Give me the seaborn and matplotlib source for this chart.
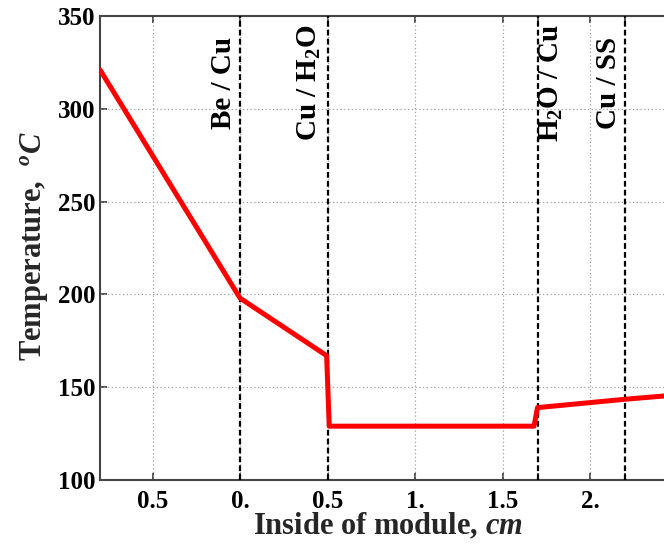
import matplotlib
matplotlib.use("Agg")
import matplotlib.pyplot as plt
import pandas as pd
import seaborn as sns

# Temperature profile across the module (depth in cm, temperature in deg C)
depth_cm = [-0.8, 0.0, 0.495, 0.51, 1.68, 1.70, 2.2, 2.514]
temperature_c = [321, 198, 167, 129, 129, 139, 143.5, 146]

# Material interfaces and their labels
interface_x = [0.0, 0.5, 1.70, 2.2]
interface_labels = ["Be / Cu", r"Cu / H$_2$O", r"H$_2$O / Cu", "Cu / SS"]
label_x = [-0.094, 0.395, 1.78, 2.106]
label_y = 314

x_ticks = [-0.5, 0.0, 0.5, 1.0, 1.5, 1.70, 2.0, 2.2]
x_tick_labels = ["0.5", "0.", "0.5", "1.", "1.5", "", "2.", ""]
y_ticks = [100, 150, 200, 250, 300, 350]
y_tick_labels = ["100", "150", "200", "250", "300", "350"]

sns.set_style("ticks")
plt.rcParams["font.family"] = ["Liberation Serif", "DejaVu Serif"]
plt.rcParams["font.weight"] = "bold"
plt.rcParams["mathtext.fontset"] = "custom"
plt.rcParams["mathtext.rm"] = "Liberation Serif:bold"
plt.rcParams["mathtext.bf"] = "Liberation Serif:bold"
plt.rcParams["mathtext.it"] = "Liberation Serif:italic:bold"

W, H = 664, 545
fig = plt.figure(figsize=(W / 100, H / 100), dpi=100)
ax_left, ax_bottom, ax_right, ax_top = 100, 65, 680, 529
ax = fig.add_axes([ax_left / W, ax_bottom / H, (ax_right - ax_left) / W, (ax_top - ax_bottom) / H])

df = pd.DataFrame({"depth": depth_cm, "temp": temperature_c})
sns.lineplot(data=df, x="depth", y="temp", color="#ff0000", lw=3.6,
             estimator=None, sort=False, ax=ax, zorder=4)

for xv in interface_x:
    ax.axvline(xv, color="black", lw=1.6, ls=(0, (2.6, 1.4)), zorder=3)

for xv, txt in zip(label_x, interface_labels):
    ax.text(xv, label_y, txt, rotation=90, ha="center", va="center",
            fontsize=21, fontweight="bold", color="black", zorder=5)

ax.set_xlim(-0.8, -0.8 + (ax_right - ax_left) / 175)
ax.set_ylim(100, 350)
ax.set_xticks(x_ticks)
ax.set_xticklabels(x_tick_labels)
ax.set_yticks(y_ticks)
ax.set_yticklabels(y_tick_labels)

# grid only at the regular ticks
for xv in [-0.5, 0.0, 0.5, 1.0, 1.5, 2.0]:
    ax.axvline(xv, color="#a0a0a0", lw=0.9, ls=(0, (1, 2)), zorder=1)
for yv in [150, 200, 250, 300]:
    ax.axhline(yv, color="#a0a0a0", lw=0.9, ls=(0, (1, 2)), zorder=1)

ax.tick_params(axis="both", which="major", direction="in", length=5, width=1.2,
               colors="#333333", labelcolor="black", labelsize=18)
ax.tick_params(axis="x", top=True, pad=7)
ax.tick_params(axis="y", pad=3)
for side in ["left", "bottom", "top"]:
    ax.spines[side].set_color("#444444")
    ax.spines[side].set_linewidth(1.5)
ax.spines["right"].set_visible(False)

for lab in ax.get_xticklabels() + ax.get_yticklabels():
    lab.set_fontweight("bold")

ax.set_xlabel(r"Inside of module, $cm$", fontsize=22, fontweight="bold")
ax.set_ylabel(r"Temperature,  $^{o}C$", fontsize=22, fontweight="bold")
ax.xaxis.set_label_coords((388 - ax_left) / (ax_right - ax_left), -0.068)
ax.yaxis.set_label_coords((50 - ax_left) / (ax_right - ax_left), 0.505)

fig.savefig("out.png", dpi=100)
